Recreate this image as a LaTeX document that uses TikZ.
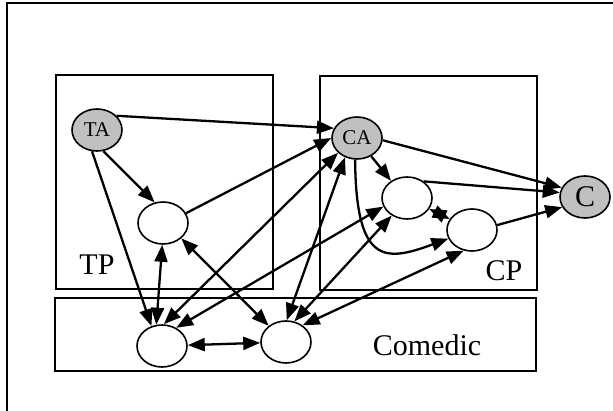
\documentclass[tikz,border=0pt]{standalone}
\usepackage{fontspec}
\setmainfont{Liberation Serif}
\usetikzlibrary{arrows.meta,shapes.geometric}
\definecolor{grfill}{HTML}{C0C0C0}
\begin{document}
\begin{tikzpicture}[x=1pt,y=-1pt,
 ell/.style={ellipse,draw,line width=1.6pt,minimum width=50pt,minimum height=42pt,inner sep=0pt,fill=white},
 grell/.style={ell,fill=grfill},
 boxline/.style={draw,line width=1.6pt},
 arr/.style={line width=2.3pt,-{Triangle[length=17pt,width=13pt]}},
 darr/.style={line width=2.3pt,{Triangle[length=17pt,width=13pt]}-{Triangle[length=17pt,width=13pt]}},
 lbl/.style={font=\fontsize{30}{36}\selectfont,inner sep=0pt},
 small/.style={font=\fontsize{21}{24}\selectfont}]
\useasboundingbox (0,0) rectangle (613,411);
\fill[white] (0,0) rectangle (613,411);
\draw[line width=2pt] (7,411) -- (7,3.5) -- (613,3.5);
% group boxes
\draw[boxline] (56,75) rectangle (273,289);
\draw[boxline] (320,76) rectangle (537,290);
\draw[boxline] (55,298) rectangle (536,371);
% labels
\node[lbl] (lTP) at (97,265) {TP};
\node[lbl] (lCP) at (504,271) {CP};
\node[lbl] (lCo) at (427,345) {Comedic};
% nodes
\node[grell,small] (TA) at (97,130) {TA};
\node[ell] (TPn) at (163,223) {};
\node[grell,small] (CA) at (357,138) {CA};
\node[ell] (n1) at (407,198) {};
\node[ell] (n2) at (472,230) {};
\node[grell,font=\fontsize{30}{36}\selectfont] (C) at (585,197) {C};
\node[ell] (c1) at (162,346) {};
\node[ell] (c2) at (286,342) {};
% edges
\draw[arr] (TA.36) -- (CA.157);
\draw[arr] (TA.-73) -- (TPn.112);
\draw[arr] (TA.-103) -- (c1.118);
\draw[darr] (TPn.-92) -- (c1.105);
\draw[arr] (TPn.23) -- (CA.180);
\draw[darr] (TPn.-40) -- (c2.137);
\draw[darr] (c1.85) -- (CA.218);
\draw[darr] (c2.88) -- (CA.238);
\draw[darr] (c2.68) -- (n1.229);
\draw[darr] (c2.45) -- (n2.248);
\draw[darr] (c1.52) -- (n1.200);
\draw[darr] (c1) -- (c2);
\draw[arr] (CA.-52) -- (n1.133);
\draw[arr] (CA.-5) -- (C.158);
\draw[arr] (CA.265) .. controls (356,265) and (385,262) .. (n2.200);
\draw[arr] (n1.45) -- (C.170);
\draw[arr] (n2.11) -- (C.204);
\draw[darr] (n1) -- (n2);
\end{tikzpicture}
\end{document}
